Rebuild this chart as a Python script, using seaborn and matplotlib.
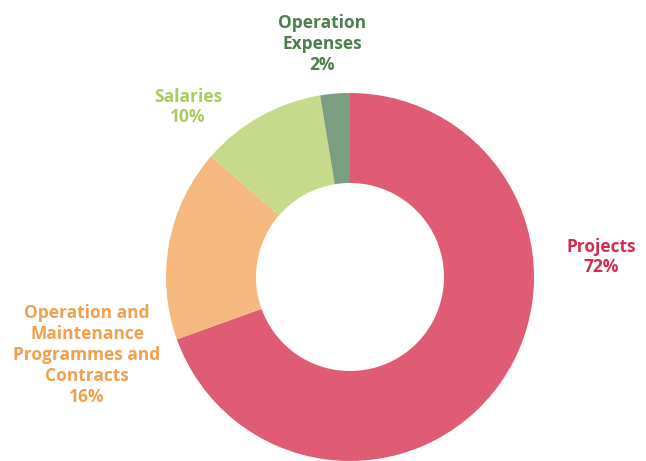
import matplotlib
matplotlib.use("Agg")
import matplotlib.pyplot as plt
import seaborn as sns

# Budget split: slice sizes as drawn (percent) and the printed labels
categories = ["Projects", "Operation and\nMaintenance\nProgrammes and\nContracts",
              "Salaries", "Operation\nExpenses"]
shares = [69.5, 16.9, 11.0, 2.6]
pct_labels = ["72%", "16%", "10%", "2%"]
wedge_colors = ["#E05C75", "#F5B97F", "#C5DA8B", "#7A9E80"]
label_colors = ["#D42B4E", "#F2A04E", "#A9CC5E", "#4E7D4E"]
# label anchor points in figure pixels (x, y from top)
label_pos = [(601, 257), (87, 355), (188, 107), (322, 44)]

sns.set_theme(style="white")
plt.rcParams['font.family'] = ['Open Sans', 'DejaVu Sans']

W, H = 646, 461
fig = plt.figure(figsize=(W / 100, H / 100), dpi=100)
ax = fig.add_axes([0, 0, 1, 1])

outer_r = 184
inner_r = 94
ax.pie(shares, colors=wedge_colors, startangle=90, counterclock=False,
       radius=outer_r, center=(350, H - 277),
       wedgeprops=dict(width=outer_r - inner_r, linewidth=0))
ax.set_xlim(0, W)
ax.set_ylim(0, H)
ax.set_aspect("equal")
ax.axis("off")

for name, pct, col, (px, py) in zip(categories, pct_labels, label_colors, label_pos):
    ax.text(px, H - py, f"{name}\n{pct}", ha="center", va="center",
            color=col, fontsize=12.5, fontweight="bold", linespacing=1.2)

fig.savefig("out.png", dpi=100)
